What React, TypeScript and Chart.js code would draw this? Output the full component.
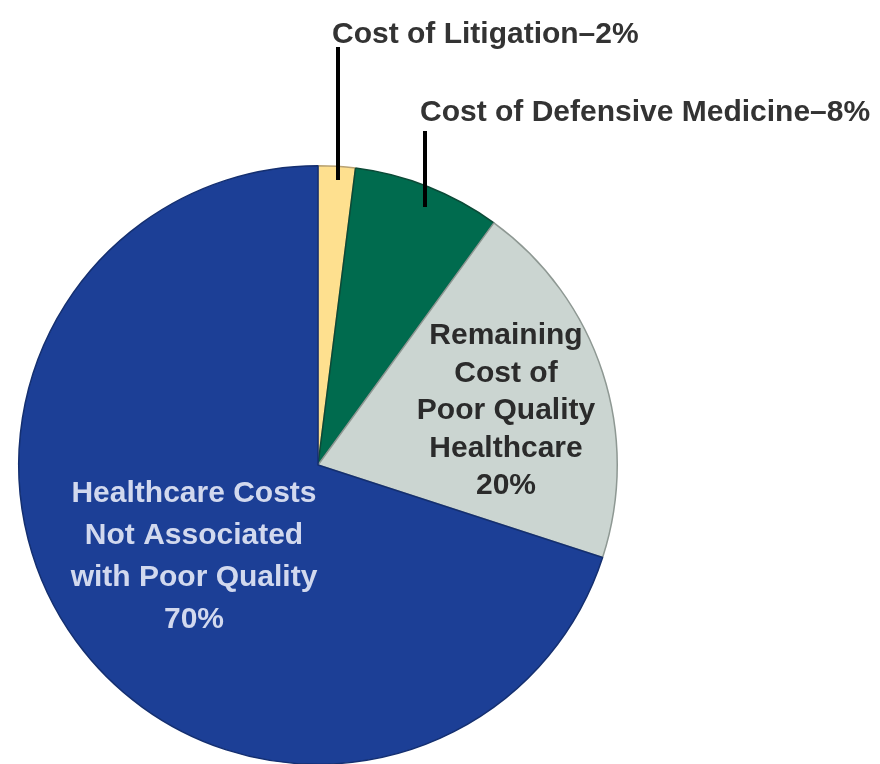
import React, { useEffect, useRef } from "react";
import { Chart, registerables } from "chart.js";

Chart.register(...registerables);

const categories = [
  "Cost of Litigation",
  "Cost of Defensive Medicine",
  "Remaining Cost of Poor Quality Healthcare",
  "Healthcare Costs Not Associated with Poor Quality",
];
const shares = [2, 8, 20, 70];
const sliceColors = ["#FEE08F", "#006B4E", "#CBD5D1", "#1C3F96"];
const sliceBorders = ["#B9A272", "#0B4A37", "#8E9893", "#142F70"];

const outsideLabels = ["Cost of Litigation\u20132%", "Cost of Defensive Medicine\u20138%"];
const grayLabelLines = ["Remaining", "Cost of", "Poor Quality", "Healthcare", "20%"];
const blueLabelLines = ["Healthcare Costs", "Not Associated", "with Poor Quality", "70%"];

const FONT = 'bold 30px "Liberation Sans", Arial, sans-serif';

const labelPlugin = {
  id: "sliceLabels",
  afterDatasetsDraw(chart: any) {
    const meta = chart.getDatasetMeta(0);
    const arc = meta.data[0];
    if (!arc) return;
    const cx = arc.x;
    const cy = arc.y;
    const ctx = chart.ctx as CanvasRenderingContext2D;
    ctx.save();
    ctx.font = FONT;

    // leader lines
    ctx.strokeStyle = "#000000";
    ctx.lineWidth = 4;
    ctx.beginPath();
    ctx.moveTo(cx + 20, cy - 418);
    ctx.lineTo(cx + 20, cy - 285);
    ctx.moveTo(cx + 107, cy - 334);
    ctx.lineTo(cx + 107, cy - 258);
    ctx.stroke();

    // outside labels
    ctx.fillStyle = "#333333";
    ctx.textAlign = "left";
    ctx.textBaseline = "alphabetic";
    ctx.fillText(outsideLabels[0], cx + 14, cy - 422);
    ctx.fillText(outsideLabels[1], cx + 102, cy - 344);

    // gray slice label
    ctx.textAlign = "center";
    ctx.textBaseline = "middle";
    ctx.fillStyle = "#2B2B2B";
    grayLabelLines.forEach((t, i) => {
      ctx.fillText(t, cx + 188, cy - 129 + i * 37.5);
    });

    // blue slice label
    ctx.fillStyle = "#D2D9EE";
    blueLabelLines.forEach((t, i) => {
      ctx.fillText(t, cx - 124, cy + 29 + i * 42);
    });
    ctx.restore();
  },
};

export default function App() {
  const canvasRef = useRef<HTMLCanvasElement | null>(null);

  useEffect(() => {
    document.body.style.margin = "0";
    const canvas = canvasRef.current;
    if (!canvas) return;
    const chart = new Chart(canvas, {
      type: "pie",
      data: {
        labels: categories,
        datasets: [
          {
            data: shares,
            backgroundColor: sliceColors,
            borderColor: sliceBorders,
            borderWidth: 1.5,
          },
        ],
      },
      options: {
        responsive: false,
        animation: false,
        events: [],
        layout: { padding: { left: 18, top: 165, right: 262, bottom: 35 } },
        plugins: {
          legend: { display: false },
          tooltip: { enabled: false },
        },
      },
      plugins: [labelPlugin],
    });
    return () => chart.destroy();
  }, []);

  return (
    <div
      style={{
        position: "absolute",
        left: 0,
        top: 0,
        width: 880,
        height: 764,
        overflow: "hidden",
        background: "#ffffff",
      }}
    >
      <canvas ref={canvasRef} width={880} height={800} style={{ width: 880, height: 800, display: "block" }} />
    </div>
  );
}
